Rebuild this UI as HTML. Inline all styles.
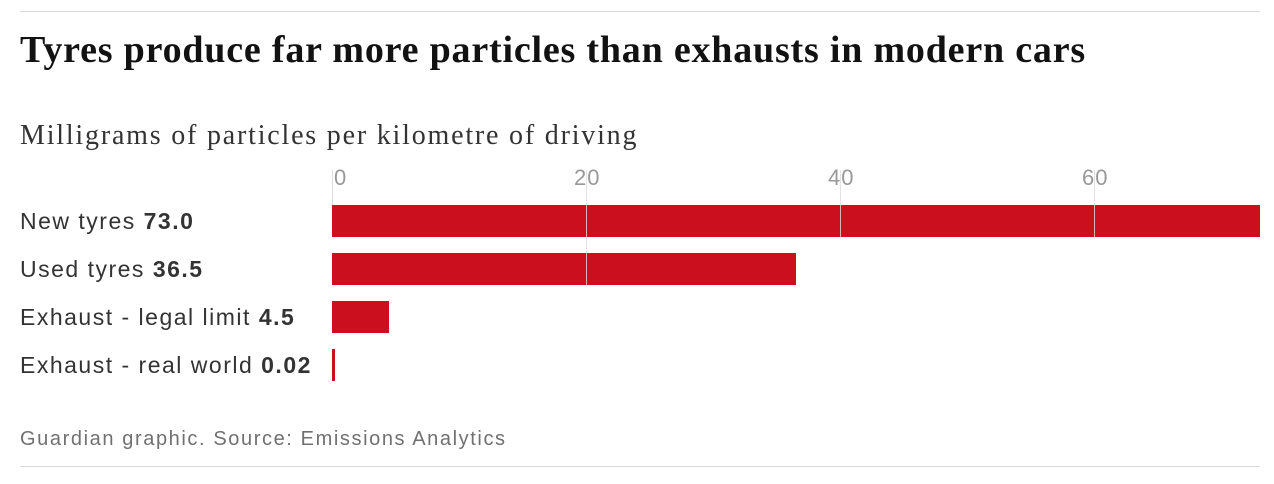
<!DOCTYPE html>
<html><head><meta charset="utf-8"><style>
body{margin:0;width:1274px;height:484px;background:#fff;position:relative;overflow:hidden;font-family:"Liberation Sans",sans-serif}
.a{position:absolute;white-space:nowrap}
.line{position:absolute;left:20px;width:1240px;height:1px;background:#dcdcdc}
.bar{position:absolute;left:332px;height:32px;background:#cc0f1e}
.lab{position:absolute;left:20px;font-size:23px;letter-spacing:1.5px;color:#333;line-height:32px}
.lab b{font-weight:bold}
.g{position:absolute;width:1px;top:170px;background:rgba(220,220,220,0.8)}
.t{position:absolute;top:165px;font-size:22px;color:#999;letter-spacing:1px}
</style></head><body>
<div class="line" style="top:11px"></div>
<div class="a" style="left:20px;top:28px;font-family:'Liberation Serif',serif;font-weight:bold;font-size:38px;color:#121212;letter-spacing:0.8px">Tyres produce far more particles than exhausts in modern cars</div>
<div class="a" style="left:20px;top:120px;font-family:'Liberation Serif',serif;font-size:28px;letter-spacing:1.8px;color:#333">Milligrams of particles per kilometre of driving</div>
<div class="t" style="left:334px">0</div>
<div class="t" style="left:574px">20</div>
<div class="t" style="left:828px">40</div>
<div class="t" style="left:1082px">60</div>
<div class="bar" style="top:205px;width:928px"></div>
<div class="bar" style="top:253px;width:464px"></div>
<div class="bar" style="top:301px;width:57px"></div>
<div class="bar" style="top:349px;width:3px"></div>
<div class="g" style="left:332px;height:35px;background:#ddd"></div>
<div class="g" style="left:586px;height:115px"></div>
<div class="g" style="left:840px;height:67px"></div>
<div class="g" style="left:1094px;height:67px"></div>
<div class="lab" style="top:205px">New tyres <b>73.0</b></div>
<div class="lab" style="top:253px">Used tyres <b>36.5</b></div>
<div class="lab" style="top:301px">Exhaust - legal limit <b>4.5</b></div>
<div class="lab" style="top:349px">Exhaust - real world <b>0.02</b></div>
<div class="a" style="left:20px;top:428px;font-size:20px;letter-spacing:1.6px;color:#707070">Guardian graphic. Source: Emissions Analytics</div>
<div class="line" style="top:466px"></div>
</body></html>
